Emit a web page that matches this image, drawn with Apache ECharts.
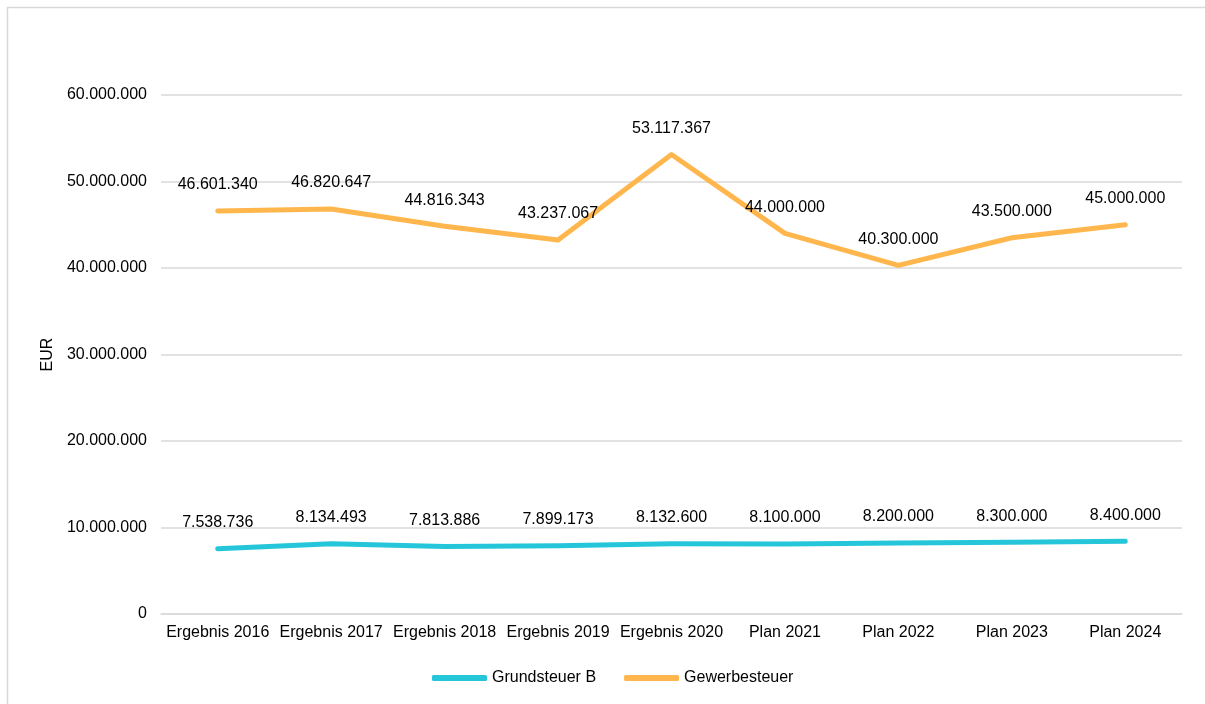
<!DOCTYPE html>
<html>
<head>
<meta charset="utf-8">
<script src="https://cdn.jsdelivr.net/npm/echarts@6/dist/echarts.min.js"></script>
<style>
  html, body { margin: 0; padding: 0; background: #fff; }
  #chart { width: 1205px; height: 704px; }
</style>
</head>
<body>
<div id="chart"></div>
<script>
// Steuereinnahmen: Ergebnisse und Planwerte
const categories = ['Ergebnis 2016', 'Ergebnis 2017', 'Ergebnis 2018', 'Ergebnis 2019', 'Ergebnis 2020',
                    'Plan 2021', 'Plan 2022', 'Plan 2023', 'Plan 2024'];
const grundsteuerB = [7538736, 8134493, 7813886, 7899173, 8132600, 8100000, 8200000, 8300000, 8400000];
const gewerbesteuer = [46601340, 46820647, 44816343, 43237067, 53117367, 44000000, 40300000, 43500000, 45000000];
const seriesNames = ['Grundsteuer B', 'Gewerbesteuer'];
const seriesColors = ['#26C6DA', '#FFB74D'];
const axisName = 'EUR';

const FONT = 'Liberation Sans, Arial, sans-serif';
const FS = 16;

function fmt(v) {
  return String(Math.round(v)).replace(/\B(?=(\d{3})+(?!\d))/g, '.');
}

function lineSeries(name, data, color) {
  return {
    name: name,
    type: 'line',
    data: data,
    symbol: 'circle',
    symbolSize: 2,
    showSymbol: true,
    itemStyle: { color: 'rgba(0,0,0,0)', borderWidth: 0 },
    lineStyle: { color: color, width: 5, cap: 'round', join: 'round' },
    label: {
      show: true,
      position: 'top',
      distance: 17,
      color: '#000',
      fontFamily: FONT,
      fontSize: FS,
      formatter: p => fmt(p.value)
    },
    emphasis: { disabled: true },
    animation: false
  };
}

const chart = echarts.init(document.getElementById('chart'), null, { renderer: 'canvas' });
chart.setOption({
  backgroundColor: '#fff',
  animation: false,
  graphic: [{
    type: 'rect',
    shape: { x: 7.5, y: 7.5, width: 1210, height: 710 },
    style: { fill: 'none', stroke: '#d9d9d9', lineWidth: 1.5 },
    silent: true
  }],
  grid: { left: 161, right: 23, top: 95, bottom: 90 },
  legend: {
    bottom: 13,
    left: 427,
    icon: 'roundRect',
    itemWidth: 55,
    itemHeight: 6,
    itemGap: 28,
    textStyle: { color: '#000', fontFamily: FONT, fontSize: FS },
    data: seriesNames.map((n, i) => ({ name: n, itemStyle: { color: seriesColors[i] } }))
  },
  xAxis: {
    type: 'category',
    data: categories,
    boundaryGap: true,
    axisLine: { show: true, lineStyle: { color: '#d9d9d9', width: 1.5 } },
    axisTick: { show: false },
    axisLabel: { color: '#000', fontFamily: FONT, fontSize: FS, margin: 11, interval: 0 }
  },
  yAxis: {
    type: 'value',
    min: 0,
    max: 60000000,
    interval: 10000000,
    name: axisName,
    nameLocation: 'middle',
    nameGap: 104,
    nameRotate: 90,
    nameTextStyle: { color: '#000', fontFamily: FONT, fontSize: FS },
    axisLine: { show: false },
    axisTick: { show: false },
    splitLine: { lineStyle: { color: '#d9d9d9', width: 1.5 } },
    axisLabel: { color: '#000', fontFamily: FONT, fontSize: FS, margin: 14, formatter: v => fmt(v) }
  },
  series: [
    lineSeries(seriesNames[0], grundsteuerB, seriesColors[0]),
    lineSeries(seriesNames[1], gewerbesteuer, seriesColors[1])
  ]
});
</script>
</body>
</html>
